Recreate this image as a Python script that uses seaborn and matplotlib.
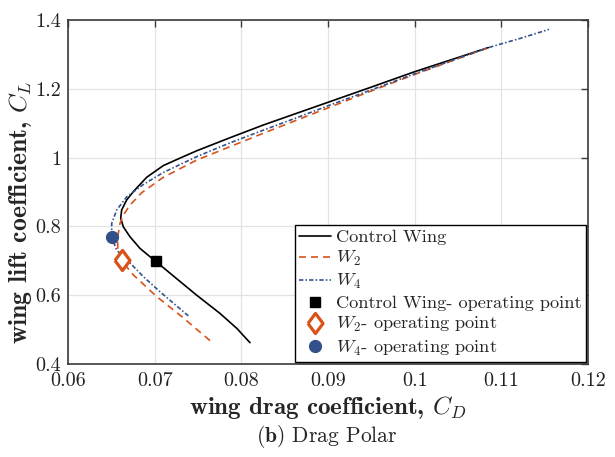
import matplotlib
matplotlib.use("Agg")
import matplotlib.pyplot as plt
import seaborn as sns
import pandas as pd

# ---- data ----
cd_control = [0.0810, 0.07946, 0.07754, 0.07485, 0.07254, 0.0701, 0.06946, 0.06831, 0.06715,
              0.06638, 0.06608, 0.06619, 0.06677, 0.06760, 0.06908, 0.07100, 0.07331,
              0.07485, 0.07869, 0.08254, 0.08638, 0.09023, 0.0952, 0.1000, 0.1085]
cl_control = [0.462, 0.504, 0.547, 0.600, 0.648, 0.699, 0.712, 0.736, 0.770,
              0.799, 0.824, 0.848, 0.877, 0.903, 0.943, 0.977, 1.003,
              1.020, 1.058, 1.095, 1.129, 1.163, 1.207, 1.250, 1.320]

cd_w2 = [0.07638, 0.07312, 0.07023, 0.06754, 0.06619, 0.06575, 0.06570, 0.06600,
         0.06638, 0.06715, 0.06850, 0.07100, 0.07485, 0.07869, 0.08254, 0.08638,
         0.09023, 0.0952, 0.1000, 0.1085]
cl_w2 = [0.468, 0.538, 0.596, 0.659, 0.700, 0.735, 0.765, 0.809,
         0.833, 0.862, 0.898, 0.943, 0.993, 1.032, 1.071, 1.109,
         1.147, 1.196, 1.242, 1.320]

cd_w4 = [0.07388, 0.07062, 0.06869, 0.06793, 0.06660, 0.06562, 0.06504, 0.06504, 0.06562,
         0.06677, 0.06869, 0.07100, 0.07485, 0.07869, 0.08254, 0.08638, 0.09023,
         0.0952, 0.1000, 0.1085, 0.1122, 0.1155]
cl_w4 = [0.540, 0.610, 0.654, 0.674, 0.708, 0.731, 0.768, 0.809, 0.848,
         0.886, 0.922, 0.957, 1.003, 1.043, 1.080, 1.116, 1.153,
         1.199, 1.244, 1.320, 1.347, 1.373]

op_cd = [0.0701, 0.0662, 0.0651]
op_cl = [0.700, 0.701, 0.768]

series_labels = ["Control Wing", "$W_2$", "$W_4$"]
op_labels = ["Control Wing- operating point", "$W_2$- operating point", "$W_4$- operating point"]

xticks = [0.06, 0.07, 0.08, 0.09, 0.10, 0.11, 0.12]
xtick_labels = ["0.06", "0.07", "0.08", "0.09", "0.1", "0.11", "0.12"]
yticks = [0.4, 0.6, 0.8, 1.0, 1.2, 1.4]
ytick_labels = ["0.4", "0.6", "0.8", "1", "1.2", "1.4"]

# ---- style ----
sns.set_theme(style="whitegrid")
plt.rcParams["font.family"] = ["cmr10", "DejaVu Serif"]
plt.rcParams["mathtext.fontset"] = "cm"
plt.rcParams["axes.unicode_minus"] = False

ORANGE = "#D95319"
BLUE = "#34508A"
SPINE = "#3a3a3a"
LW = 1.2
TALL_DIAMOND = [(-0.75, 0.0), (0.0, 1.0), (0.75, 0.0), (0.0, -1.0), (-0.75, 0.0)]

fig = plt.figure(figsize=(6.15, 4.57), dpi=100)
ax = fig.add_axes([0.1106, 0.2035, 0.8455, 0.7525])

df_c = pd.DataFrame({"CD": cd_control, "CL": cl_control})
df_2 = pd.DataFrame({"CD": cd_w2, "CL": cl_w2})
df_4 = pd.DataFrame({"CD": cd_w4, "CL": cl_w4})

sns.lineplot(data=df_c, x="CD", y="CL", sort=False, estimator=None, ax=ax,
             color="black", lw=LW, label=series_labels[0])
sns.lineplot(data=df_2, x="CD", y="CL", sort=False, estimator=None, ax=ax,
             color=ORANGE, lw=LW, label=series_labels[1])
sns.lineplot(data=df_4, x="CD", y="CL", sort=False, estimator=None, ax=ax,
             color=BLUE, lw=LW, label=series_labels[2])
ax.lines[1].set_dashes([4.2, 3.0])
ax.lines[2].set_dashes([2.6, 1.3, 0.9, 1.3])
for ln in ax.lines[:3]:
    ln.set_solid_joinstyle("round")
    ln.set_dash_joinstyle("round")

ax.plot([op_cd[0]], [op_cl[0]], ls="none", marker="s", ms=7.5, color="black",
        label=op_labels[0])
ax.plot([op_cd[1]], [op_cl[1]], ls="none", marker=TALL_DIAMOND, ms=14.5, mfc="white",
        mec=ORANGE, mew=2.3, label=op_labels[1])
ax.plot([op_cd[2]], [op_cl[2]], ls="none", marker="o", ms=8.5, color=BLUE,
        label=op_labels[2])

ax.set_xlim(0.06, 0.12)
ax.set_ylim(0.4, 1.4)
ax.set_xticks(xticks)
ax.set_xticklabels(xtick_labels)
ax.set_yticks(yticks)
ax.set_yticklabels(ytick_labels)

ax.grid(True, color="#e3e3e3", lw=0.9)
for s in ax.spines.values():
    s.set_visible(True)
    s.set_color(SPINE)
    s.set_linewidth(1.2)
ax.tick_params(axis="both", which="both", direction="in", length=5, width=1.0,
               color=SPINE, top=True, right=True, labelsize=14.5,
               labelcolor="#222222")
ax.tick_params(axis="x", pad=6)
ax.tick_params(axis="y", pad=5)

ax.set_xlabel("wing drag coefficient, $C_D$", fontsize=18, family="cmb10", labelpad=3)
ax.set_ylabel("wing lift coefficient, $C_L$", fontsize=18.5, family="cmb10")
ax.yaxis.set_label_coords(-0.066, 0.44)

leg = ax.legend(loc="lower right", bbox_to_anchor=(1.0, 0.0), borderaxespad=0.1,
                fontsize=13.2, frameon=True, fancybox=False, framealpha=1,
                edgecolor="black", handlelength=1.75, handletextpad=0.25,
                labelspacing=0.22, borderpad=0.25)
leg.get_frame().set_linewidth(1.0)

fig.text(0.532, 0.044, "$\\mathbf{(b)}$ Drag Polar", ha="center", va="center",
         fontsize=15.5)

fig.savefig("out.png", dpi=100)
